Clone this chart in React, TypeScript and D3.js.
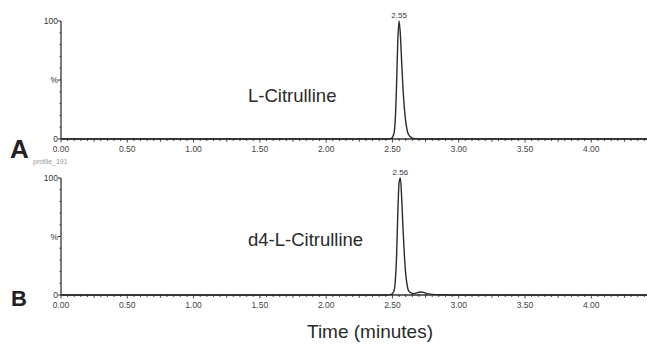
import React from "react";
import * as d3 from "d3";

const W = 647;
const H = 346;

// Trace A: L-Citrulline (time in minutes, relative abundance %)
const timesA = [0, 1.0, 2.0, 2.45, 2.49, 2.51, 2.52, 2.53, 2.54, 2.55, 2.56, 2.57, 2.58, 2.59, 2.6, 2.61, 2.62, 2.64, 2.66, 2.7, 3.0, 4.0, 4.42];
const valuesA = [0, 0, 0, 0, 0.5, 4, 14, 42, 82, 100, 88, 64, 42, 26, 15, 8, 4, 1.5, 0.5, 0, 0, 0, 0];

// Trace B: d4-L-Citrulline
const timesB = [0, 1.0, 2.0, 2.45, 2.49, 2.51, 2.52, 2.53, 2.54, 2.55, 2.56, 2.57, 2.58, 2.59, 2.6, 2.61, 2.62, 2.64, 2.66, 2.68, 2.7, 2.72, 2.74, 2.77, 2.8, 2.85, 3.0, 4.0, 4.42];
const valuesB = [0, 0, 0, 0, 0.5, 3, 10, 30, 68, 96, 100, 82, 56, 34, 18, 9, 4, 1.8, 1.2, 1.6, 2.4, 2.6, 2.0, 1.0, 0.5, 0.2, 0, 0, 0];

const xTickLabels = ["0.00", "0.50", "1.00", "1.50", "2.00", "2.50", "3.00", "3.50", "4.00"];
const yTickLabels = ["0", "%", "100"];
const panelLetters = ["A", "B"];
const compoundNames = ["L-Citrulline", "d4-L-Citrulline"];
const peakLabels = ["2.55", "2.56"];
const peakTimes = [2.55, 2.56];
const fileName = "profile_191";

const x = d3.scaleLinear().domain([0, 4.42]).range([61, 647]);
const FONT = "Liberation Sans, Arial, sans-serif";

type PanelProps = {
  top: number;
  bottom: number;
  times: number[];
  values: number[];
  idx: number;
};

function Panel({ top, bottom, times, values, idx }: PanelProps) {
  const y = d3.scaleLinear().domain([0, 100]).range([bottom, top]);
  const pts = times.map((t, i) => [t, values[i]] as [number, number]);
  const line = d3
    .line<[number, number]>()
    .x((d) => x(d[0]))
    .y((d) => y(d[1]))
    .curve(d3.curveMonotoneX);
  const minor = d3.range(0, 4.42, 0.05);
  const yMinor = d3.range(0, 101, 10);
  const x0 = x(0);
  const axisColor = "#333";
  return (
    <g>
      {/* y axis */}
      <line x1={x0} x2={x0} y1={y(100)} y2={y(0)} stroke={axisColor} strokeWidth={1.3} />
      {yMinor.map((v) => (
        <line key={"ym" + v} x1={x0 - (v % 50 === 0 ? 3 : 1.5)} x2={x0} y1={y(v)} y2={y(v)} stroke={axisColor} strokeWidth={1} />
      ))}
      {[0, 50, 100].map((v, i) => (
        <text key={"yl" + v} x={x0 - 3} y={y(v) + 3} fontSize={8.5} textAnchor="end" fill="#333" fontFamily={FONT}>
          {yTickLabels[i]}
        </text>
      ))}
      {/* x axis */}
      <line x1={x0} x2={W} y1={y(0)} y2={y(0)} stroke={axisColor} strokeWidth={1.3} />
      {minor.map((t, i) => (
        <line key={"xm" + i} x1={x(t)} x2={x(t)} y1={y(0) - 1} y2={y(0) + (i % 10 === 0 ? 3.5 : i % 5 === 0 ? 2.8 : 2)} stroke={axisColor} strokeWidth={0.9} />
      ))}
      {xTickLabels.map((l) => (
        <text key={"xl" + l} x={x(+l)} y={y(0) + 13} fontSize={8.5} textAnchor="middle" fill="#444" fontFamily={FONT}>
          {l}
        </text>
      ))}
      {/* trace */}
      <path d={line(pts) || ""} fill="none" stroke="#2a2a2a" strokeWidth={1.4} />
      <text x={x(peakTimes[idx])} y={top - 3} fontSize={8} textAnchor="middle" fill="#333" fontFamily={FONT}>
        {peakLabels[idx]}
      </text>
    </g>
  );
}

export default function App() {
  return (
    <svg width={W} height={H} style={{ position: "absolute", left: 0, top: 0, background: "#fff" }}>
      <rect x={0} y={0} width={W} height={H} fill="#fff" />
      <Panel top={21} bottom={139} times={timesA} values={valuesA} idx={0} />
      <Panel top={178} bottom={295} times={timesB} values={valuesB} idx={1} />
      <text x={10} y={158} fontSize={26} fontWeight="bold" fill="#222" fontFamily={FONT}>
        {panelLetters[0]}
      </text>
      <text x={33} y={164} fontSize={7} fill="#999" fontFamily={FONT}>
        {fileName}
      </text>
      <text x={11} y={306} fontSize={22} fontWeight="bold" fill="#222" fontFamily={FONT}>
        {panelLetters[1]}
      </text>
      <text x={248} y={102} fontSize={18.5} fill="#2a2a2a" fontFamily={FONT}>
        {compoundNames[0]}
      </text>
      <text x={248} y={246} fontSize={18.5} fill="#2a2a2a" fontFamily={FONT}>
        {compoundNames[1]}
      </text>
      <text x={370} y={338} fontSize={19} textAnchor="middle" fill="#2a2a2a" fontFamily={FONT}>
        Time (minutes)
      </text>
    </svg>
  );
}
